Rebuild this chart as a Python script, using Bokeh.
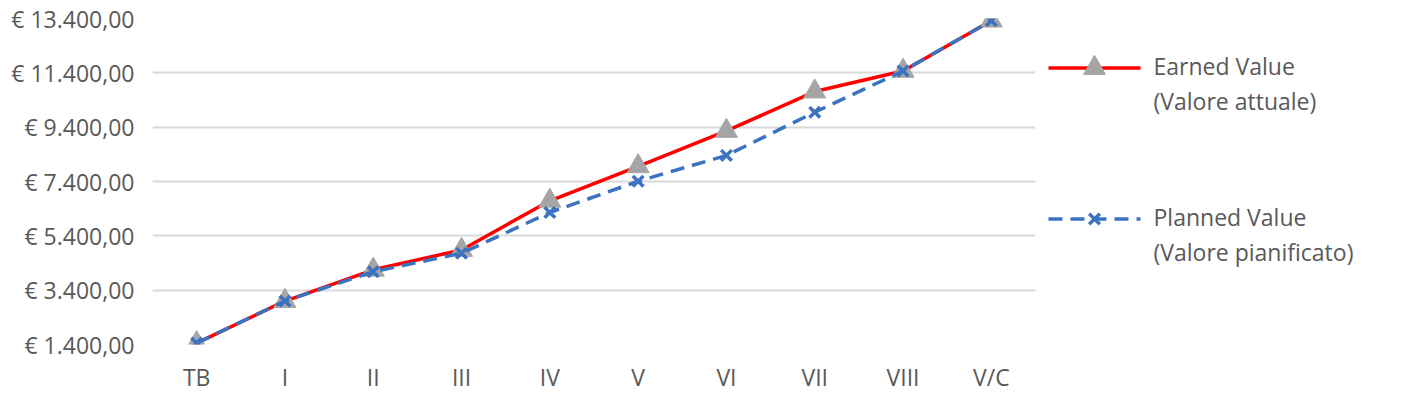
from bokeh.plotting import figure
from bokeh.models import Range1d, CustomJSTickFormatter, FixedTicker
from bokeh.layouts import row
from bokeh.core.properties import value
from bokeh.embed import file_html
from bokeh.resources import INLINE

cats = ["TB", "I", "II", "III", "IV", "V", "VI", "VII", "VIII", "V/C"]
earned = [1450, 3000, 4150, 4880, 6690, 7960, 9260, 10710, 11470, 13320]
planned = [1450, 3000, 4080, 4760, 6260, 7410, 8360, 9950, 11470, 13320]
yticks = [1400, 3400, 5400, 7400, 9400, 11400, 13400]

FONT = "Open Sans"
RED = "#ff0000"
BLUE = "#3b73c0"
GREY = "#a5a5a5"

p = figure(x_range=cats, y_range=Range1d(1400, 13400), width=1040, height=395,
           output_backend="svg", toolbar_location=None,
           min_border_left=152, min_border_right=5, min_border_top=18, min_border_bottom=46)
p.outline_line_color = None
p.xgrid.grid_line_color = None
p.ygrid.grid_line_color = "#d9d9d9"
p.ygrid.grid_line_width = 2
p.yaxis.ticker = FixedTicker(ticks=yticks)
p.yaxis.formatter = CustomJSTickFormatter(code="""
const s = tick.toFixed(0).replace(/\\B(?=(\\d{3})+(?!\\d))/g, '.');
return '\u20ac ' + s + ',00';
""")
for ax in (p.xaxis, p.yaxis):
    ax.axis_line_color = None
    ax.major_tick_line_color = None
    ax.minor_tick_line_color = None
    ax.major_label_text_font = FONT
    ax.major_label_text_font_size = "23px"
    ax.major_label_text_color = "#595959"
p.yaxis.major_label_standoff = 12
p.xaxis.major_label_standoff = 10

p.line(cats, earned, line_color=RED, line_width=3.5)
p.scatter(cats, earned, marker="triangle", size=22, fill_color=GREY, line_color=GREY)
p.line(cats, planned, line_color=BLUE, line_width=3.5, line_dash="14 8")
p.scatter(cats, planned, marker="x", size=15, line_color=BLUE, line_width=3.5)

# legend panel
lg = figure(width=364, height=395, x_range=Range1d(0, 364), y_range=Range1d(395, 0),
            output_backend="svg", toolbar_location=None, min_border=0)
lg.axis.visible = False
lg.grid.visible = False
lg.outline_line_color = None
lg.line([8, 100], [60, 60], line_color=RED, line_width=3.5)
lg.scatter([54], [60], marker="triangle", size=22, fill_color=GREY, line_color=GREY)
lg.line([8, 100], [243, 243], line_color=BLUE, line_width=3.5, line_dash="14 8")
lg.scatter([54], [243], marker="x", size=15, line_color=BLUE, line_width=3.5)
lg.text([113, 113, 113, 113], [58, 100, 241, 283],
        text=["Earned Value", "(Valore attuale)", "Planned Value", "(Valore pianificato)"],
        text_font=value(FONT), text_font_size="23px", text_color="#595959",
        text_baseline="middle")

open("out.html", "w").write(file_html(row(p, lg), INLINE))
